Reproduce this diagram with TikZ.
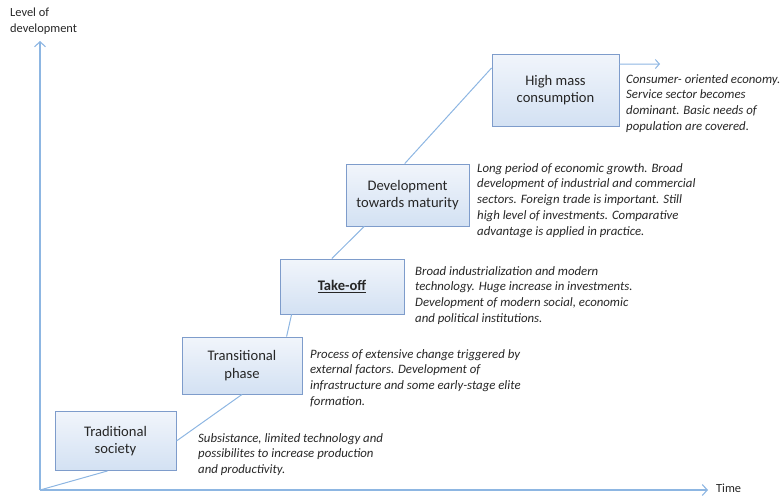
\documentclass[tikz,border=0pt]{standalone}
\usepackage{fontspec}
\setmainfont{Carlito}
\usetikzlibrary{arrows.meta}
\definecolor{axisblue}{HTML}{8DB6E2}
\definecolor{boxedge}{HTML}{7E9CCB}
\definecolor{boxtop}{HTML}{F1F5FB}
\definecolor{boxbot}{HTML}{D3E1F3}
\definecolor{txt}{HTML}{262626}
\tikzset{
  stagebox/.style={draw=boxedge, line width=0.9pt, top color=boxtop, bottom color=boxbot,
    inner sep=0pt, align=center, text=txt, font=\fontsize{14.6}{17.5}\selectfont},
  desc/.style={anchor=north west, align=left, inner sep=0pt, text=txt,
    font=\fontsize{12.8}{15.8}\selectfont\itshape},
  link/.style={draw=axisblue, line width=1pt},
  axis/.style={draw=axisblue, line width=1.1pt, -{Straight Barb[length=5pt,width=11pt]}},
  axlabel/.style={inner sep=0pt, text=txt, font=\fontsize{12.4}{16}\selectfont}
}
\begin{document}
\begin{tikzpicture}[x=1pt, y=-1pt]
\useasboundingbox (0,0) rectangle (781,496);

% axes
\coordinate (origin) at (40,490);
\coordinate (ytip) at (40,41);
\coordinate (xtip) at (708,490);
\draw[axis] (origin) -- (ytip);
\draw[axis] (origin) -- (xtip);
\node[axlabel, anchor=north west, align=left] (ylab) at (10,8) {Level of\\development};
\node[axlabel, anchor=west] (xlab) at (716,488.5) {Time};

% stages
\node[stagebox, minimum width=121pt, minimum height=59pt] (ts) at (115.5,441) {Traditional\\society};
\node[stagebox, minimum width=120pt, minimum height=57pt] (tp) at (242,365.5) {Transitional\\phase};
\node[stagebox, minimum width=124pt, minimum height=55pt] (to) at (342,286.5) {\textbf{\underline{Take-off}}};
\node[stagebox, minimum width=123pt, minimum height=62pt] (dm) at (407.5,195) {Development\\towards maturity};
\node[stagebox, minimum width=127pt, minimum height=72pt] (hm) at (555.5,90) {High mass\\consumption};

% connectors
\draw[link] (origin) -- (ts.255);
\draw[link] (ts.east) -- (tp.south);
\draw[link] (tp.33) -- (to.209);
\draw[link] (to.110) -- (dm.216);
\draw[link] (dm.95) -- (hm.161);
\coordinate (future) at (660,64);
\draw[link, -{Straight Barb[length=4pt,width=9pt]}] (hm.22) -- (future);

% descriptions
\node[desc] (tsd) at (198,433) {Subsistance, limited technology and\\possibilites to increase production\\and productivity.};
\node[desc] (tpd) at (310,349) {Process of extensive change triggered by\\external factors. Development of\\infrastructure and some early-stage elite\\formation.};
\node[desc] (tod) at (415,266) {Broad industrialization and modern\\technology. Huge increase in investments.\\Development of modern social, economic\\and political institutions.};
\node[desc] (dmd) at (477,163) {Long period of economic growth. Broad\\development of industrial and commercial\\sectors. Foreign trade is important. Still\\high level of investments. Comparative\\advantage is applied in practice.};
\node[desc] (hmd) at (626,74) {Consumer- oriented economy.\\Service sector becomes\\dominant. Basic needs of\\population are covered.};
\end{tikzpicture}
\end{document}
